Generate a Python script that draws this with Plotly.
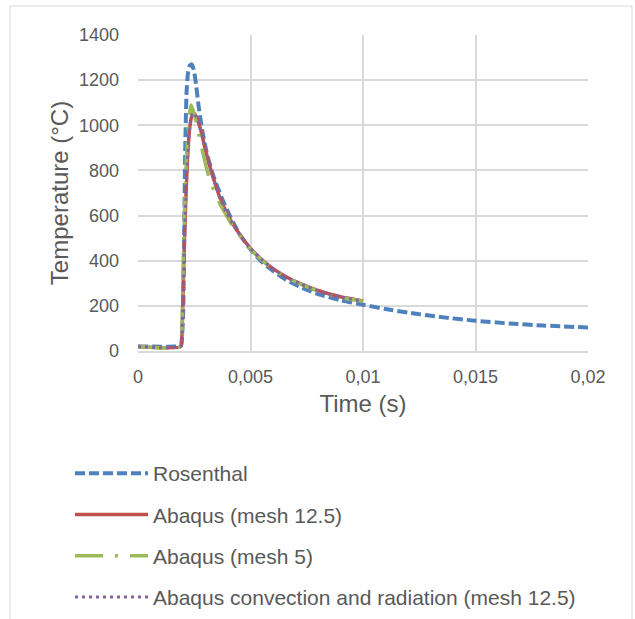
import plotly.graph_objects as go

# ---- data ----
ros_t = [0, 0.0018, 0.0019, 0.00200, 0.00205, 0.00210, 0.00216, 0.00222, 0.00230, 0.00239,
         0.00248, 0.00258, 0.00270, 0.00285, 0.00305, 0.00330, 0.00350, 0.0038, 0.0041, 0.0045,
         0.0050, 0.0055, 0.0060, 0.0066, 0.0073, 0.0080, 0.0090, 0.0100, 0.0110, 0.0120,
         0.0135, 0.0150, 0.0165, 0.0180, 0.0200]
ros_T = [20, 20, 22, 150, 500, 900, 1150, 1230, 1265, 1270,
         1245, 1180, 1080, 980, 880, 790, 735, 660, 595, 520,
         450, 395, 355, 315, 280, 252, 225, 205, 186, 170,
         150, 134, 122, 113, 104]

m125_t = [0, 0.0019, 0.00195, 0.0020, 0.0021, 0.0022, 0.0023, 0.0024, 0.00246, 0.0026,
          0.0028, 0.0030, 0.0032, 0.0034, 0.0036, 0.0039, 0.0042, 0.0046, 0.0050, 0.0055,
          0.0060, 0.0066, 0.0073, 0.0080, 0.0090, 0.0100]
m125_T = [20, 20, 60, 250, 600, 850, 990, 1045, 1055, 1035,
          975, 890, 815, 750, 690, 620, 565, 505, 455, 405,
          365, 328, 295, 268, 240, 222]

m5_t = [0, 0.0019, 0.00195, 0.0020, 0.0021, 0.0022, 0.0023, 0.00236, 0.0025, 0.0027,
        0.0029, 0.0031, 0.0033, 0.0036, 0.0039, 0.0042, 0.0046, 0.0050, 0.0055, 0.0060,
        0.0066, 0.0073, 0.0080, 0.0090, 0.0100]
m5_T = [20, 20, 80, 350, 720, 950, 1060, 1090, 1050, 960,
        870, 790, 730, 660, 605, 555, 500, 452, 403, 363,
        326, 293, 266, 238, 220]

conv_t = [0, 0.0019, 0.00195, 0.0020, 0.0021, 0.0022, 0.0023, 0.0024, 0.00246, 0.0026,
          0.0028, 0.0030, 0.0032, 0.0034, 0.0036, 0.0039, 0.0042, 0.0046, 0.0050, 0.0055,
          0.0060, 0.0066, 0.0073, 0.0080, 0.0090, 0.0100]
conv_T = [20, 20, 60, 250, 600, 850, 990, 1045, 1055, 1035,
          975, 890, 815, 750, 690, 620, 565, 505, 455, 405,
          365, 327, 294, 267, 239, 220]

names = ["Rosenthal", "Abaqus (mesh 12.5)", "Abaqus (mesh 5)",
         "Abaqus convection and radiation (mesh 12.5)"]

x_ticks = [0, 0.005, 0.01, 0.015, 0.02]
x_tick_labels = ["0", "0,005", "0,01", "0,015", "0,02"]
y_ticks = [0, 200, 400, 600, 800, 1000, 1200, 1400]

FONT = "Liberation Sans, Arial, sans-serif"
GRID = "#d9d9d9"
TXT = "#595959"

fig = go.Figure()
fig.add_trace(go.Scatter(x=ros_t, y=ros_T, mode="lines", name=names[0], legendgroup="a",
                         line=dict(color="#4f81bd", width=4, dash="10px,4px", shape="spline", smoothing=0.6)))
fig.add_trace(go.Scatter(x=m125_t, y=m125_T, mode="lines", name=names[1], legendgroup="b",
                         line=dict(color="#c0504d", width=3.5, shape="spline", smoothing=0.6)))
fig.add_trace(go.Scatter(x=m5_t, y=m5_T, mode="lines", name=names[2], legendgroup="c",
                         line=dict(color="#9bbb59", width=3.5, dash="28px,12px,3px,12px",
                                   shape="spline", smoothing=0.6)))
fig.add_trace(go.Scatter(x=conv_t, y=conv_T, mode="lines", name=names[3], legendgroup="d",
                         line=dict(color="#8064a2", width=3, dash="3px,4px", shape="spline", smoothing=0.6)))

L, R, T, B = 138, 47, 35, 268
W, H = 635, 619
pw, ph = W - L - R, H - T - B

def px_to_paper_x(px):
    return (px - L) / pw

def px_to_paper_y(py):
    return (H - B - py) / ph

fig.update_layout(
    width=W, height=H,
    margin=dict(l=L, r=R, t=T, b=B, autoexpand=False),
    paper_bgcolor="white", plot_bgcolor="white",
    font=dict(family=FONT, color=TXT, size=18),
    showlegend=True,
    legend=dict(x=px_to_paper_x(70), y=px_to_paper_y(453), xanchor="left", yanchor="top",
                font=dict(size=21, color=TXT, family=FONT), itemwidth=73,
                tracegroupgap=11, bgcolor="rgba(0,0,0,0)"),
    xaxis=dict(range=[0, 0.02], tickvals=x_ticks, ticktext=x_tick_labels,
               showgrid=True, gridcolor=GRID, gridwidth=1.5, zeroline=False,
               showline=True, linecolor=GRID, linewidth=2, ticks="", ticklabelstandoff=8,
               title=dict(text="Time (s)", font=dict(size=24, color=TXT), standoff=10),
               tickfont=dict(size=18, color=TXT)),
    yaxis=dict(range=[0, 1400], tickvals=y_ticks,
               showgrid=True, gridcolor=GRID, gridwidth=1.5, zeroline=False,
               showline=False, ticks="", ticklabelstandoff=18,
               title=dict(text="Temperature (°C)", font=dict(size=24, color=TXT), standoff=3),
               tickfont=dict(size=18, color=TXT)),
    shapes=[dict(type="rect", xref="paper", yref="paper",
                 x0=px_to_paper_x(10), x1=px_to_paper_x(632),
                 y0=px_to_paper_y(640), y1=px_to_paper_y(6),
                 line=dict(color=GRID, width=1), fillcolor="rgba(0,0,0,0)", layer="below")],
)

fig.write_html("out.html")
